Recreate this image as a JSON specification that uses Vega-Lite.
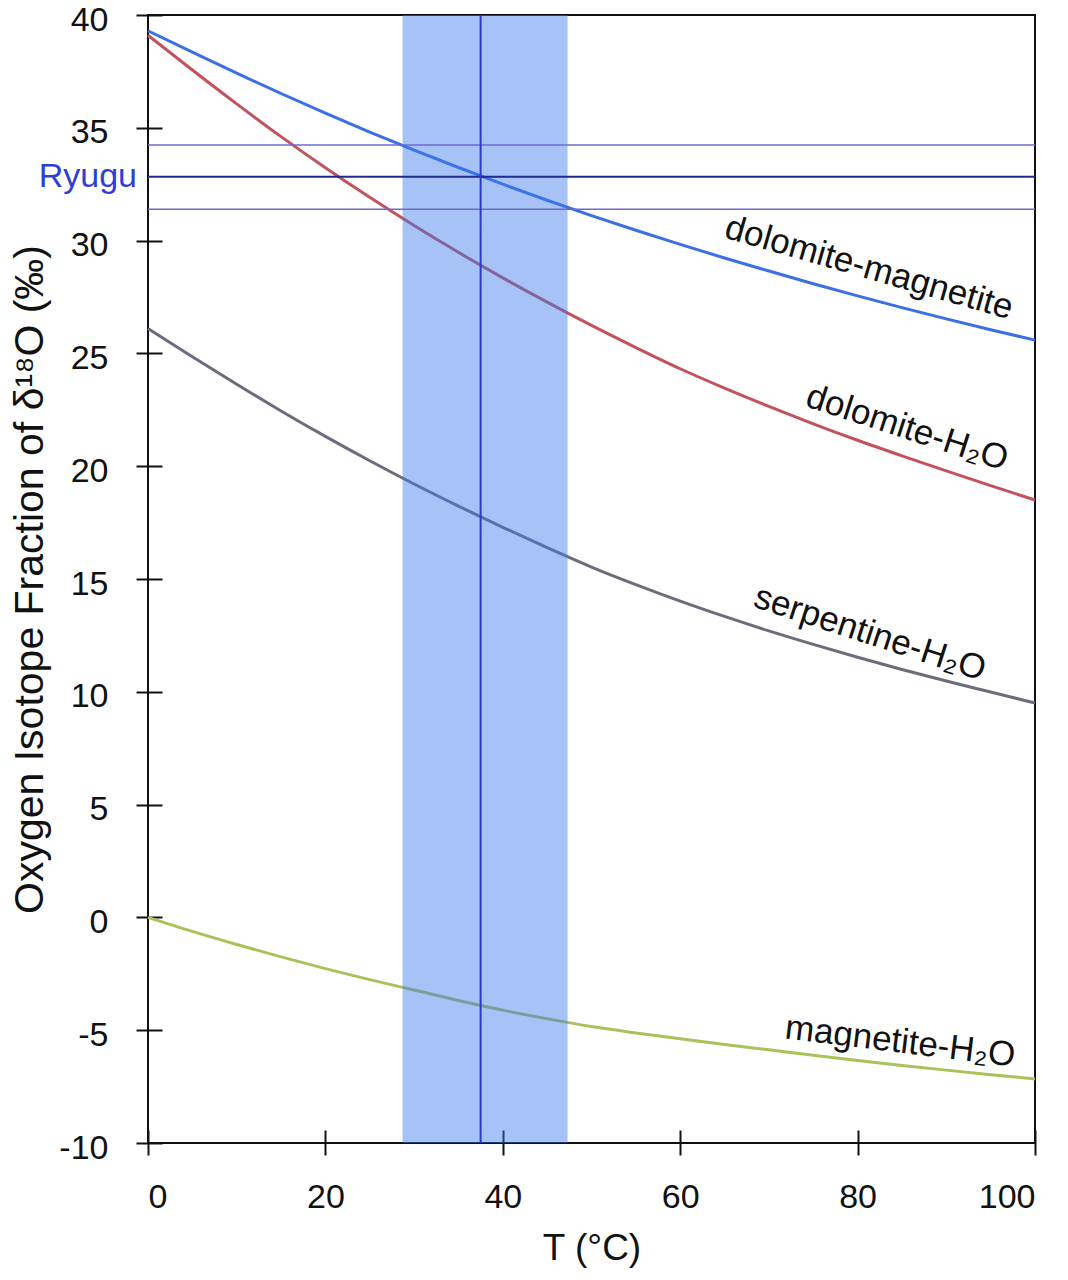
{
  "$schema": "https://vega.github.io/schema/vega-lite/v6.json",
  "width": 887,
  "height": 1128,
  "autosize": "none",
  "padding": {"left": 148, "top": 15, "right": 33, "bottom": 137},
  "background": "white",
  "config": {
    "font": "Liberation Sans",
    "view": {"stroke": "#111111", "strokeWidth": 2},
    "axis": {
      "domain": false,
      "grid": false,
      "tickColor": "#111111",
      "tickWidth": 2,
      "labelColor": "#111111",
      "labelFont": "Liberation Sans",
      "labelFontSize": 34,
      "titleFont": "Liberation Sans",
      "titleFontWeight": "normal",
      "titleColor": "#111111"
    }
  },
  "datasets": {
    "curves": [
      {"pair": "dolomite-magnetite", "T": 0, "d18O": 39.3},
      {"pair": "dolomite-magnetite", "T": 5, "d18O": 38.35},
      {"pair": "dolomite-magnetite", "T": 10, "d18O": 37.42},
      {"pair": "dolomite-magnetite", "T": 15, "d18O": 36.52},
      {"pair": "dolomite-magnetite", "T": 20, "d18O": 35.65},
      {"pair": "dolomite-magnetite", "T": 25, "d18O": 34.81},
      {"pair": "dolomite-magnetite", "T": 30, "d18O": 34.01},
      {"pair": "dolomite-magnetite", "T": 35, "d18O": 33.24},
      {"pair": "dolomite-magnetite", "T": 40, "d18O": 32.5},
      {"pair": "dolomite-magnetite", "T": 45, "d18O": 31.79},
      {"pair": "dolomite-magnetite", "T": 50, "d18O": 31.11},
      {"pair": "dolomite-magnetite", "T": 55, "d18O": 30.46},
      {"pair": "dolomite-magnetite", "T": 60, "d18O": 29.83},
      {"pair": "dolomite-magnetite", "T": 65, "d18O": 29.23},
      {"pair": "dolomite-magnetite", "T": 70, "d18O": 28.65},
      {"pair": "dolomite-magnetite", "T": 75, "d18O": 28.09},
      {"pair": "dolomite-magnetite", "T": 80, "d18O": 27.55},
      {"pair": "dolomite-magnetite", "T": 85, "d18O": 27.03},
      {"pair": "dolomite-magnetite", "T": 90, "d18O": 26.53},
      {"pair": "dolomite-magnetite", "T": 95, "d18O": 26.05},
      {"pair": "dolomite-magnetite", "T": 100, "d18O": 25.59},
      {"pair": "dolomite-H2O", "T": 0, "d18O": 39.1},
      {"pair": "dolomite-H2O", "T": 5, "d18O": 37.56},
      {"pair": "dolomite-H2O", "T": 10, "d18O": 36.06},
      {"pair": "dolomite-H2O", "T": 15, "d18O": 34.61},
      {"pair": "dolomite-H2O", "T": 20, "d18O": 33.23},
      {"pair": "dolomite-H2O", "T": 25, "d18O": 31.92},
      {"pair": "dolomite-H2O", "T": 30, "d18O": 30.67},
      {"pair": "dolomite-H2O", "T": 35, "d18O": 29.48},
      {"pair": "dolomite-H2O", "T": 40, "d18O": 28.35},
      {"pair": "dolomite-H2O", "T": 45, "d18O": 27.27},
      {"pair": "dolomite-H2O", "T": 50, "d18O": 26.24},
      {"pair": "dolomite-H2O", "T": 55, "d18O": 25.26},
      {"pair": "dolomite-H2O", "T": 60, "d18O": 24.32},
      {"pair": "dolomite-H2O", "T": 65, "d18O": 23.46},
      {"pair": "dolomite-H2O", "T": 70, "d18O": 22.65},
      {"pair": "dolomite-H2O", "T": 75, "d18O": 21.88},
      {"pair": "dolomite-H2O", "T": 80, "d18O": 21.15},
      {"pair": "dolomite-H2O", "T": 85, "d18O": 20.46},
      {"pair": "dolomite-H2O", "T": 90, "d18O": 19.79},
      {"pair": "dolomite-H2O", "T": 95, "d18O": 19.14},
      {"pair": "dolomite-H2O", "T": 100, "d18O": 18.5},
      {"pair": "serpentine-H2O", "T": 0, "d18O": 26.1},
      {"pair": "serpentine-H2O", "T": 5, "d18O": 24.85},
      {"pair": "serpentine-H2O", "T": 10, "d18O": 23.63},
      {"pair": "serpentine-H2O", "T": 15, "d18O": 22.45},
      {"pair": "serpentine-H2O", "T": 20, "d18O": 21.32},
      {"pair": "serpentine-H2O", "T": 25, "d18O": 20.24},
      {"pair": "serpentine-H2O", "T": 30, "d18O": 19.21},
      {"pair": "serpentine-H2O", "T": 35, "d18O": 18.23},
      {"pair": "serpentine-H2O", "T": 40, "d18O": 17.29},
      {"pair": "serpentine-H2O", "T": 45, "d18O": 16.39},
      {"pair": "serpentine-H2O", "T": 50, "d18O": 15.53},
      {"pair": "serpentine-H2O", "T": 55, "d18O": 14.75},
      {"pair": "serpentine-H2O", "T": 60, "d18O": 14.02},
      {"pair": "serpentine-H2O", "T": 65, "d18O": 13.34},
      {"pair": "serpentine-H2O", "T": 70, "d18O": 12.7},
      {"pair": "serpentine-H2O", "T": 75, "d18O": 12.1},
      {"pair": "serpentine-H2O", "T": 80, "d18O": 11.53},
      {"pair": "serpentine-H2O", "T": 85, "d18O": 10.99},
      {"pair": "serpentine-H2O", "T": 90, "d18O": 10.48},
      {"pair": "serpentine-H2O", "T": 95, "d18O": 9.99},
      {"pair": "serpentine-H2O", "T": 100, "d18O": 9.5},
      {"pair": "magnetite-H2O", "T": 0, "d18O": 0.0},
      {"pair": "magnetite-H2O", "T": 5, "d18O": -0.62},
      {"pair": "magnetite-H2O", "T": 10, "d18O": -1.2},
      {"pair": "magnetite-H2O", "T": 15, "d18O": -1.75},
      {"pair": "magnetite-H2O", "T": 20, "d18O": -2.27},
      {"pair": "magnetite-H2O", "T": 25, "d18O": -2.76},
      {"pair": "magnetite-H2O", "T": 30, "d18O": -3.22},
      {"pair": "magnetite-H2O", "T": 35, "d18O": -3.68},
      {"pair": "magnetite-H2O", "T": 40, "d18O": -4.11},
      {"pair": "magnetite-H2O", "T": 45, "d18O": -4.49},
      {"pair": "magnetite-H2O", "T": 50, "d18O": -4.84},
      {"pair": "magnetite-H2O", "T": 55, "d18O": -5.12},
      {"pair": "magnetite-H2O", "T": 60, "d18O": -5.38},
      {"pair": "magnetite-H2O", "T": 65, "d18O": -5.63},
      {"pair": "magnetite-H2O", "T": 70, "d18O": -5.87},
      {"pair": "magnetite-H2O", "T": 75, "d18O": -6.11},
      {"pair": "magnetite-H2O", "T": 80, "d18O": -6.34},
      {"pair": "magnetite-H2O", "T": 85, "d18O": -6.56},
      {"pair": "magnetite-H2O", "T": 90, "d18O": -6.77},
      {"pair": "magnetite-H2O", "T": 95, "d18O": -6.97},
      {"pair": "magnetite-H2O", "T": 100, "d18O": -7.16}
    ],
    "ryugu_d18O": [
      {"role": "low", "d18O": 31.39},
      {"role": "mean", "d18O": 32.83},
      {"role": "high", "d18O": 34.24}
    ],
    "ryugu_T": [
      {"T_lo": 28.7, "T": 37.5, "T_hi": 47.3}
    ],
    "curve_labels": [
      {"pair": "dolomite-magnetite", "text": "dolomite-magnetite", "T": 81.3, "d18O": 28.8},
      {"pair": "dolomite-H2O", "text": "dolomite-H₂O", "T": 85.6, "d18O": 21.7},
      {"pair": "serpentine-H2O", "text": "serpentine-H₂O", "T": 81.4, "d18O": 12.6},
      {"pair": "magnetite-H2O", "text": "magnetite-H₂O", "T": 84.8, "d18O": -5.5}
    ]
  },
  "layer": [
    {
      "data": {"name": "curves"},
      "mark": {"type": "line", "strokeWidth": 3, "interpolate": "monotone"},
      "encoding": {
        "x": {
          "field": "T",
          "type": "quantitative",
          "scale": {"domain": [0, 100], "nice": false, "zero": false},
          "axis": {
            "orient": "bottom",
            "values": [0, 20, 40, 60, 80, 100],
            "offset": -13,
            "tickSize": 25,
            "labelPadding": 25,
            "labelExpr": "datum.value + ''",
            "title": "T (°C)",
            "titleFontSize": 37,
            "titlePadding": 16
          }
        },
        "y": {
          "field": "d18O",
          "type": "quantitative",
          "scale": {"domain": [-10, 40], "nice": false, "zero": false},
          "axis": {
            "orient": "left",
            "values": [-10, -5, 0, 5, 10, 15, 20, 25, 30, 35, 40],
            "offset": -14,
            "tickSize": 26,
            "labelPadding": 28,
            "labelOffset": 5,
            "labelExpr": "datum.value + ''",
            "title": "Oxygen Isotope Fraction of δ¹⁸O (‰)",
            "titleFontSize": 41,
            "titlePadding": 7
          }
        },
        "color": {
          "field": "pair",
          "type": "nominal",
          "scale": {
            "domain": ["dolomite-magnetite", "dolomite-H2O", "serpentine-H2O", "magnetite-H2O"],
            "range": ["#3b6fe6", "#c2525e", "#6c6c7e", "#a9c25a"]
          },
          "legend": null
        }
      }
    },
    {
      "data": {"name": "ryugu_T"},
      "mark": {"type": "rect", "color": "#3c78eb", "opacity": 0.45},
      "encoding": {
        "x": {"field": "T_lo", "type": "quantitative"},
        "x2": {"field": "T_hi"}
      }
    },
    {
      "data": {"name": "ryugu_d18O"},
      "mark": {"type": "rule"},
      "encoding": {
        "y": {"field": "d18O", "type": "quantitative"},
        "color": {"condition": {"test": "datum.role === 'mean'", "value": "#1f2a8f"}, "value": "#6b6bd2"},
        "strokeWidth": {"condition": {"test": "datum.role === 'mean'", "value": 2}, "value": 1.6}
      }
    },
    {
      "data": {"name": "ryugu_T"},
      "mark": {"type": "rule", "color": "#2a3cc4", "strokeWidth": 2},
      "encoding": {
        "x": {"field": "T", "type": "quantitative"}
      }
    },
    {
      "data": {"name": "ryugu_d18O"},
      "transform": [{"filter": "datum.role === 'mean'"}],
      "mark": {"type": "text", "text": "Ryugu", "align": "right", "baseline": "middle", "dx": -11, "fontSize": 34, "color": "#2f3fd6"},
      "encoding": {
        "x": {"datum": 0, "type": "quantitative"},
        "y": {"field": "d18O", "type": "quantitative"}
      }
    },
    {
      "data": {"name": "curve_labels"},
      "transform": [{"filter": "datum.pair === 'dolomite-magnetite'"}],
      "mark": {"type": "text", "angle": 16, "align": "center", "baseline": "middle", "fontSize": 35, "color": "#111111"},
      "encoding": {
        "x": {"field": "T", "type": "quantitative"},
        "y": {"field": "d18O", "type": "quantitative"},
        "text": {"field": "text"}
      }
    },
    {
      "data": {"name": "curve_labels"},
      "transform": [{"filter": "datum.pair === 'dolomite-H2O'"}],
      "mark": {"type": "text", "angle": 18, "align": "center", "baseline": "middle", "fontSize": 35, "color": "#111111"},
      "encoding": {
        "x": {"field": "T", "type": "quantitative"},
        "y": {"field": "d18O", "type": "quantitative"},
        "text": {"field": "text"}
      }
    },
    {
      "data": {"name": "curve_labels"},
      "transform": [{"filter": "datum.pair === 'serpentine-H2O'"}],
      "mark": {"type": "text", "angle": 18, "align": "center", "baseline": "middle", "fontSize": 35, "color": "#111111"},
      "encoding": {
        "x": {"field": "T", "type": "quantitative"},
        "y": {"field": "d18O", "type": "quantitative"},
        "text": {"field": "text"}
      }
    },
    {
      "data": {"name": "curve_labels"},
      "transform": [{"filter": "datum.pair === 'magnetite-H2O'"}],
      "mark": {"type": "text", "angle": 7, "align": "center", "baseline": "middle", "fontSize": 35, "color": "#111111"},
      "encoding": {
        "x": {"field": "T", "type": "quantitative"},
        "y": {"field": "d18O", "type": "quantitative"},
        "text": {"field": "text"}
      }
    }
  ]
}
